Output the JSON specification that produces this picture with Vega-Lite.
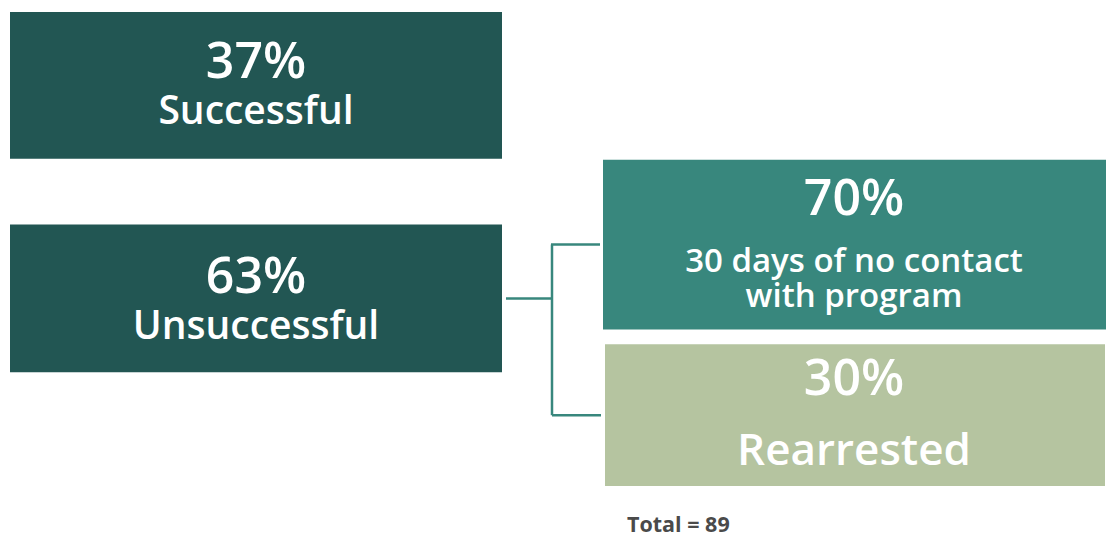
{
  "$schema": "https://vega.github.io/schema/vega-lite/v6.json",
  "width": 1113,
  "height": 537,
  "autosize": {"type": "fit", "contains": "padding"},
  "padding": 0,
  "background": "white",
  "config": {"view": {"stroke": null}},
  "datasets": {
    "boxes": [
      {"id": "successful", "x0": 10, "x1": 502, "y0": 12, "y1": 159, "color": "#225653"},
      {"id": "unsuccessful", "x0": 10, "x1": 502, "y0": 225, "y1": 373, "color": "#225653"},
      {"id": "nocontact", "x0": 603, "x1": 1106, "y0": 160, "y1": 330, "color": "#38877d"},
      {"id": "rearrested", "x0": 605, "x1": 1105, "y0": 345, "y1": 487, "color": "#b5c4a0"}
    ],
    "links": [
      {"seg": "a", "x0": 506, "x1": 553, "y0": 299, "y1": 299},
      {"seg": "b", "x0": 552, "x1": 552, "y0": 245, "y1": 416},
      {"seg": "c", "x0": 551, "x1": 600, "y0": 245, "y1": 245},
      {"seg": "d", "x0": 552, "x1": 601, "y0": 416, "y1": 416}
    ],
    "labels": [
      {"text": "37%", "x": 256, "y": 78, "size": 50},
      {"text": "Successful", "x": 256, "y": 124, "size": 39},
      {"text": "63%", "x": 256, "y": 294, "size": 50},
      {"text": "Unsuccessful", "x": 256, "y": 340, "size": 39},
      {"text": "70%", "x": 854, "y": 215, "size": 50},
      {"text": "30 days of no contact", "x": 854, "y": 273, "size": 33},
      {"text": "with program", "x": 854, "y": 308, "size": 33},
      {"text": "30%", "x": 854, "y": 396, "size": 50},
      {"text": "Rearrested", "x": 854, "y": 466, "size": 44}
    ],
    "notes": [
      {"text": "Total = 89", "x": 627, "y": 533, "size": 21.5}
    ]
  },
  "layer": [
    {
      "data": {"name": "boxes"},
      "mark": {"type": "rect"},
      "encoding": {
        "x": {"field": "x0", "type": "quantitative", "scale": {"domain": [0, 1113], "nice": false, "zero": false}, "axis": null},
        "x2": {"field": "x1"},
        "y": {"field": "y0", "type": "quantitative", "scale": {"domain": [537, 0], "nice": false, "zero": false}, "axis": null},
        "y2": {"field": "y1"},
        "color": {"field": "color", "type": "nominal", "scale": null, "legend": null}
      }
    },
    {
      "data": {"name": "links"},
      "mark": {"type": "rule", "color": "#38877d", "strokeWidth": 2.5},
      "encoding": {
        "x": {"field": "x0", "type": "quantitative"},
        "x2": {"field": "x1"},
        "y": {"field": "y0", "type": "quantitative"},
        "y2": {"field": "y1"}
      }
    },
    {
      "data": {"name": "labels"},
      "mark": {"type": "text", "font": "Open Sans", "fontWeight": 600, "baseline": "alphabetic", "align": "center", "color": "white"},
      "encoding": {
        "x": {"field": "x", "type": "quantitative"},
        "y": {"field": "y", "type": "quantitative"},
        "text": {"field": "text"},
        "size": {"field": "size", "type": "quantitative", "scale": null}
      }
    },
    {
      "data": {"name": "notes"},
      "mark": {"type": "text", "font": "Open Sans", "fontWeight": "bold", "baseline": "alphabetic", "align": "left", "color": "#4a4a4a"},
      "encoding": {
        "x": {"field": "x", "type": "quantitative"},
        "y": {"field": "y", "type": "quantitative"},
        "text": {"field": "text"},
        "size": {"field": "size", "type": "quantitative", "scale": null}
      }
    }
  ]
}
